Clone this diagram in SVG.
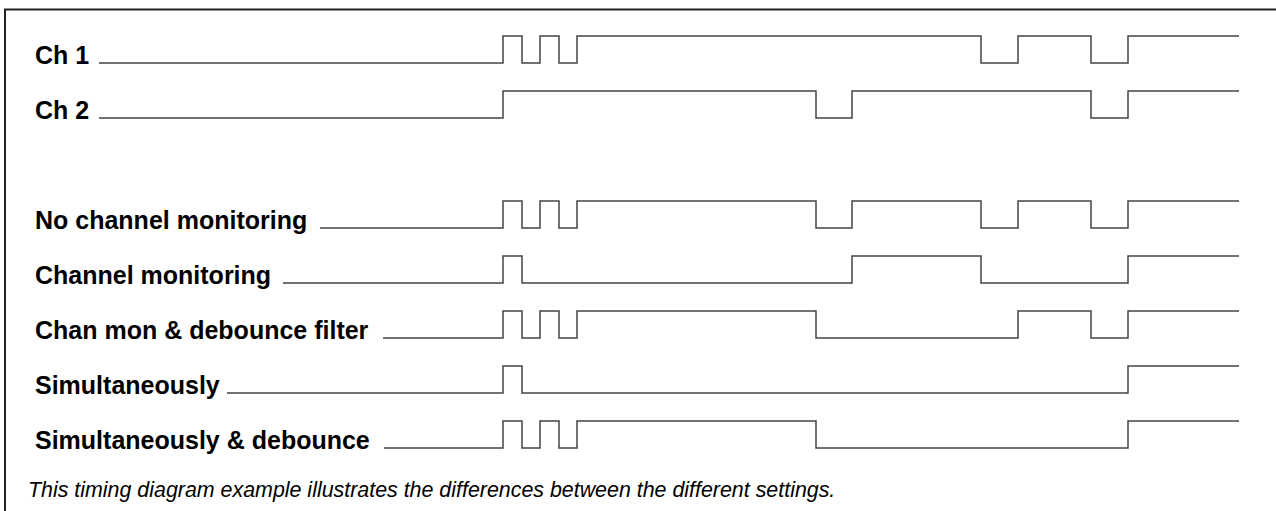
<svg xmlns="http://www.w3.org/2000/svg" width="1276" height="511" viewBox="0 0 1276 511">
<style>
.bg{fill:#ffffff}
.frame{fill:none;stroke:#222;stroke-width:2}
.lbl{font-family:"Liberation Sans",Arial,sans-serif;font-weight:bold;font-size:25px;fill:#000}
.wave{fill:none;stroke:#444;stroke-width:1.5;stroke-linejoin:miter}
.cap{font-family:"Liberation Sans",Arial,sans-serif;font-style:italic;font-size:21.4px;fill:#000}
</style>
<rect class="bg" x="0" y="0" width="1276" height="511"/>
<path class="frame" d="M5,511 V9.5 H1276"/>
<g id="ch1">
<text class="lbl" x="35" y="64">Ch 1</text>
<path class="wave" d="M99,63 H503 V36 H522 V63 H540 V36 H559 V63 H577 V36 H981 V63 H1018 V36 H1091 V63 H1128 V36 H1239"/>
</g>
<g id="ch2">
<text class="lbl" x="35" y="119">Ch 2</text>
<path class="wave" d="M99,118 H503 V91 H816 V118 H852 V91 H1091 V118 H1128 V91 H1239"/>
</g>
<g id="no-channel-monitoring">
<text class="lbl" x="35" y="229">No channel monitoring</text>
<path class="wave" d="M320,228 H503 V201 H522 V228 H540 V201 H559 V228 H577 V201 H816 V228 H852 V201 H981 V228 H1018 V201 H1091 V228 H1128 V201 H1239"/>
</g>
<g id="channel-monitoring">
<text class="lbl" x="35" y="284">Channel monitoring</text>
<path class="wave" d="M283,283 H503 V256 H522 V283 H852 V256 H981 V283 H1128 V256 H1239"/>
</g>
<g id="chan-mon-debounce">
<text class="lbl" x="35" y="339">Chan mon &amp; debounce filter</text>
<path class="wave" d="M383,338 H503 V311 H522 V338 H540 V311 H559 V338 H577 V311 H816 V338 H1018 V311 H1091 V338 H1128 V311 H1239"/>
</g>
<g id="simultaneously">
<text class="lbl" x="35" y="394">Simultaneously</text>
<path class="wave" d="M227,393 H503 V366 H522 V393 H1128 V366 H1239"/>
</g>
<g id="simultaneously-debounce">
<text class="lbl" x="35" y="449">Simultaneously &amp; debounce</text>
<path class="wave" d="M384,448 H503 V421 H522 V448 H540 V421 H559 V448 H577 V421 H816 V448 H1128 V421 H1239"/>
</g>
<g id="connectors"></g>
<text id="caption" class="cap" x="28" y="497">This timing diagram example illustrates the differences between the different settings.</text>
</svg>
